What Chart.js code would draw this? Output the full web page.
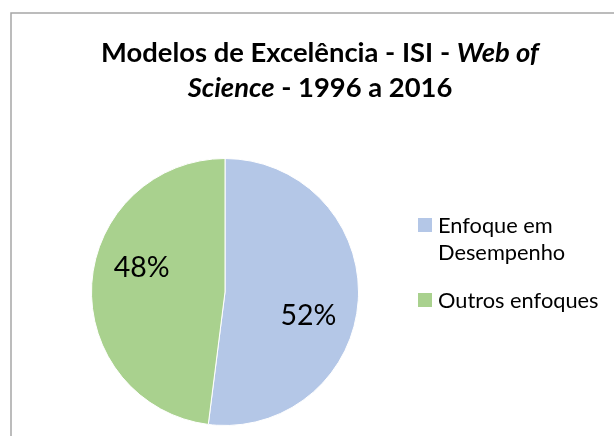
<!DOCTYPE html>
<html>
<head>
<meta charset="utf-8">
<script src="https://cdn.jsdelivr.net/npm/chart.js@4.4.1/dist/chart.umd.min.js"></script>
<style>
	html, body { margin: 0; padding: 0; background: #fff; }
	#wrap { width: 614px; height: 436px; }
</style>
</head>
<body>
<div id="wrap"><canvas id="pieChart" width="614" height="436"></canvas></div>
<script>
	// Data
	const categories = ['Enfoque em Desempenho', 'Outros enfoques'];
	const legendLines = [['Enfoque em', 'Desempenho'], ['Outros enfoques']];
	const shares = [52, 48];
	const sliceColors = ['#B4C7E7', '#A9D18E'];

	const fontFamily = 'Lato, "Open Sans", sans-serif';

	// Frame, title (with italic parts) and legend are drawn by hand
	const decorPlugin = {
		id: 'decor',
		beforeDraw(chart) {
			const ctx = chart.ctx;
			ctx.save();
			ctx.fillStyle = '#fff';
			ctx.fillRect(0, 0, chart.width, chart.height);
			ctx.strokeStyle = '#a6a6a6';
			ctx.lineWidth = 1.5;
			ctx.strokeRect(11, 13, 700, 500);
			ctx.restore();
		},
		afterDraw(chart) {
			const ctx = chart.ctx;
			ctx.save();
			ctx.fillStyle = '#000';
			ctx.textBaseline = 'alphabetic';

			// title
			const titleLines = [
				[['Modelos de Excelência - ISI - ', false], ['Web of', true]],
				[['Science', true], [' - 1996 a 2016', false]]
			];
			const baselines = [62, 97];
			titleLines.forEach(function (parts, i) {
				let total = 0;
				parts.forEach(function (p) {
					ctx.font = (p[1] ? 'italic ' : '') + 'bold 27.4px ' + fontFamily;
					total += ctx.measureText(p[0]).width;
				});
				let x = 320 - total / 2;
				parts.forEach(function (p) {
					ctx.font = (p[1] ? 'italic ' : '') + 'bold 27.4px ' + fontFamily;
					ctx.fillText(p[0], x, baselines[i]);
					x += ctx.measureText(p[0]).width;
				});
			});

			// legend
			ctx.font = '21.8px ' + fontFamily;
			const legendBaselines = [233, 308];
			legendLines.forEach(function (lines, i) {
				const y = legendBaselines[i];
				ctx.fillStyle = sliceColors[i];
				ctx.fillRect(418, y - 15, 14, 14);
				ctx.fillStyle = '#000';
				lines.forEach(function (line, j) {
					ctx.fillText(line, 438, y + j * 27);
				});
			});

			// percentage labels
			const meta = chart.getDatasetMeta(0);
			ctx.font = '28.5px ' + fontFamily;
			ctx.textAlign = 'center';
			ctx.textBaseline = 'middle';
			meta.data.forEach(function (arc, i) {
				const p = arc.getProps(['x', 'y', 'startAngle', 'endAngle', 'outerRadius'], true);
				const mid = (p.startAngle + p.endAngle) / 2 + 0.22;
				const r = p.outerRadius * 0.65;
				ctx.fillText(shares[i] + '%', p.x + Math.cos(mid) * r, p.y + Math.sin(mid) * r);
			});
			ctx.restore();
		}
	};

	const ctx = document.getElementById('pieChart').getContext('2d');
	new Chart(ctx, {
		type: 'pie',
		data: {
			labels: categories,
			datasets: [{
				data: shares,
				backgroundColor: sliceColors,
				borderColor: '#ffffff',
				borderWidth: 1
			}]
		},
		options: {
			responsive: false,
			animation: false,
			layout: {
				padding: { left: 91, right: 255, top: 158, bottom: 10 }
			},
			plugins: {
				legend: { display: false },
				title: { display: false },
				tooltip: { enabled: false }
			}
		},
		plugins: [decorPlugin]
	});
</script>
</body>
</html>
